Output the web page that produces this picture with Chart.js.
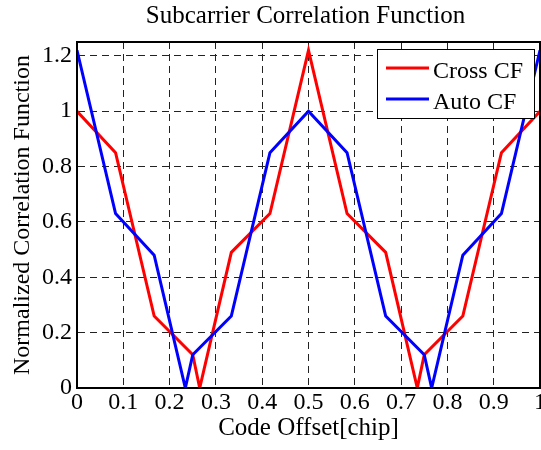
<!DOCTYPE html>
<html>
<head>
<meta charset="utf-8">
<script src="https://cdn.jsdelivr.net/npm/chart.js@4/dist/chart.umd.min.js"></script>
<style>
html,body{margin:0;padding:0;background:#fff;}
canvas{display:block;}
</style>
</head>
<body>
<canvas id="c" width="541" height="450"></canvas>
<script>
// ---- data ----
const chartTitle = "Subcarrier Correlation Function";
const xAxisTitle = "Code Offset[chip]";
const yAxisTitle = "Normalized Correlation Function";
const xTicks = [0, 0.1, 0.2, 0.3, 0.4, 0.5, 0.6, 0.7, 0.8, 0.9, 1];
const yTicks = [0, 0.2, 0.4, 0.6, 0.8, 1, 1.2];

const crossLabel = "Cross CF";
const crossX = [0, 0.0833, 0.1667, 0.25, 0.265, 0.3333, 0.4167, 0.5, 0.5833, 0.6667, 0.735, 0.75, 0.8333, 0.9167, 1];
const crossY = [1.0, 0.85, 0.26, 0.12, 0, 0.49, 0.63, 1.22, 0.63, 0.49, 0, 0.12, 0.26, 0.85, 1.0];

const autoLabel = "Auto CF";
const autoX = [0, 0.0833, 0.1667, 0.234, 0.25, 0.3333, 0.4167, 0.5, 0.5833, 0.6667, 0.75, 0.766, 0.8333, 0.9167, 1];
const autoY = [1.22, 0.63, 0.48, 0, 0.12, 0.26, 0.85, 1.0, 0.85, 0.26, 0.12, 0, 0.48, 0.63, 1.22];

const FONT = "'Liberation Serif', 'Times New Roman', serif";

function pts(xs, ys){ return xs.map((x,i)=>({x:x, y:ys[i]})); }

const decorPlugin = {
  id: 'decor',
  afterDatasetsDraw(chart){
    const ctx = chart.ctx;
    const a = chart.chartArea;
    ctx.save();
    // frame
    ctx.strokeStyle = '#000';
    ctx.lineWidth = 2;
    ctx.strokeRect(a.left, a.top, a.right - a.left, a.bottom - a.top);
    // legend
    const bx = 377.5, by = 49.5, bw = 157, bh = 69;
    ctx.fillStyle = '#fff';
    ctx.fillRect(bx, by, bw, bh);
    ctx.lineWidth = 1;
    ctx.strokeStyle = '#000';
    ctx.strokeRect(bx, by, bw, bh);
    const items = [chart.data.datasets[0], chart.data.datasets[1]];
    const rowsY = [68, 99];
    const baseY = [77.5, 108.5];
    items.forEach((ds, i) => {
      ctx.strokeStyle = ds.borderColor;
      ctx.lineWidth = 3;
      ctx.beginPath();
      ctx.moveTo(386, rowsY[i]);
      ctx.lineTo(429, rowsY[i]);
      ctx.stroke();
      ctx.fillStyle = '#000';
      ctx.font = "24px " + FONT;
      ctx.textAlign = 'left';
      ctx.textBaseline = 'alphabetic';
      ctx.fillText(ds.label, 433, baseY[i]);
    });
    // title
    ctx.fillStyle = '#000';
    ctx.font = "25px " + FONT;
    ctx.textAlign = 'center';
    ctx.textBaseline = 'alphabetic';
    ctx.fillText(chartTitle, 305.5, 23);
    ctx.restore();
  }
};

new Chart(document.getElementById('c'), {
  type: 'line',
  data: {
    datasets: [
      { label: crossLabel, data: pts(crossX, crossY), borderColor: '#ff0000', borderWidth: 3, pointRadius: 0, tension: 0, fill: false, order: 1 },
      { label: autoLabel, data: pts(autoX, autoY), borderColor: '#0000ff', borderWidth: 3, pointRadius: 0, tension: 0, fill: false, order: 0 }
    ]
  },
  options: {
    responsive: false,
    animation: false,
    devicePixelRatio: 1,
    layout: { padding: { left: 0, right: 1, top: 42, bottom: 0 } },
    plugins: { legend: { display: false }, title: { display: false }, tooltip: { enabled: false } },
    scales: {
      x: {
        type: 'linear', min: 0, max: 1,
        afterFit(s){ s.height = 62; s.paddingLeft = 0; s.paddingRight = 0; },
        afterBuildTicks(s){ s.ticks = xTicks.map(v => ({value: v})); },
        ticks: { color: '#000', font: { family: FONT, size: 24 }, padding: 0, maxRotation: 0, autoSkip: false,
                 callback: v => String(v) },
        grid: { color: '#222', lineWidth: 1, drawTicks: false },
        border: { display: true, color: '#000', width: 2, dash: [7, 5] },
        title: { display: true, text: xAxisTitle, color: '#000', font: { family: FONT, size: 25 }, padding: { top: 0, bottom: 7 } }
      },
      y: {
        type: 'linear', min: 0, max: 1.25,
        afterFit(s){ s.width = 77; s.paddingTop = 0; s.paddingBottom = 0; },
        afterBuildTicks(s){ s.ticks = yTicks.map(v => ({value: v})); },
        ticks: { color: '#000', font: { family: FONT, size: 24 }, padding: 5, autoSkip: false,
                 callback: v => String(v) },
        grid: { color: '#222', lineWidth: 1, drawTicks: false },
        border: { display: true, color: '#000', width: 2, dash: [7, 5] },
        title: { display: true, text: yAxisTitle, color: '#000', font: { family: FONT, size: 24 }, padding: { top: 8, bottom: 0 } }
      }
    }
  },
  plugins: [decorPlugin]
});
</script>
</body>
</html>
